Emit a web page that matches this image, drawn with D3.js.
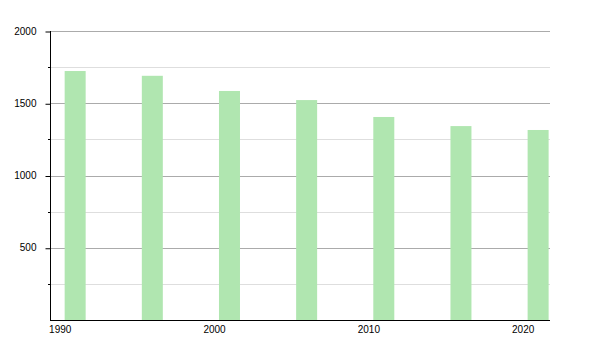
<!DOCTYPE html>
<html lang="en">
<head>
    <meta charset="UTF-8">
    <title>Population</title>
    <style>
        body { margin: 0; background: #fff; }
        svg { font-family: "Liberation Sans", Arial, sans-serif; }
    </style>
</head>
<body>
<div id="chart"></div>

<script src="https://d3js.org/d3.v7.min.js"></script>
<script>
    // Census years and population
    var years = [1991, 1996, 2001, 2006, 2011, 2016, 2021];
    var population = [1723, 1690, 1585, 1522, 1405, 1342, 1315];
    var yTicks = [500, 1000, 1500, 2000];
    var yMinorTicks = [250, 750, 1250, 1750];
    var xTicks = [1990, 2000, 2010, 2020];

    var width = 600, height = 350;
    var plotLeft = 50, plotRight = 550, plotTop = 31, plotBottom = 320;

    var svg = d3.select("#chart").append("svg")
        .attr("width", width)
        .attr("height", height);

    var x = d3.scaleLinear().domain([1989.37, 2021.77]).range([plotLeft, plotRight]);
    var y = d3.scaleLinear().domain([0, 2000]).range([plotBottom, plotTop]);

    // clip so the last bar stops at the axis end
    svg.append("clipPath").attr("id", "plot")
        .append("rect")
        .attr("x", plotLeft).attr("y", plotTop - 2)
        .attr("width", plotRight - plotLeft).attr("height", plotBottom - plotTop + 2);

    // minor gridlines
    svg.selectAll(".minor")
        .data(yMinorTicks)
        .enter().append("line")
        .attr("x1", plotLeft).attr("x2", plotRight)
        .attr("y1", d => Math.round(y(d)) + 0.5).attr("y2", d => Math.round(y(d)) + 0.5)
        .attr("stroke", "#dedede");

    // major gridlines
    svg.selectAll(".major")
        .data(yTicks)
        .enter().append("line")
        .attr("x1", plotLeft).attr("x2", plotRight)
        .attr("y1", d => Math.round(y(d)) + 0.5).attr("y2", d => Math.round(y(d)) + 0.5)
        .attr("stroke", "#ababab");

    // bars
    var barW = 21;
    svg.append("g")
        .attr("clip-path", "url(#plot)")
        .selectAll("rect")
        .data(years)
        .enter().append("rect")
        .attr("x", d => x(d) - barW / 2)
        .attr("width", barW)
        .attr("y", (d, i) => y(population[i]))
        .attr("height", (d, i) => plotBottom - y(population[i]))
        .attr("fill", "#b0e6b0");

    // y axis
    var yAxis = d3.axisLeft(y)
        .tickValues(yTicks)
        .tickSize(5)
        .tickFormat(d3.format("d"));
    var gy = svg.append("g")
        .attr("transform", "translate(" + (plotLeft + 0.5) + ",0)")
        .call(yAxis);
    gy.select(".domain").attr("d", "M0," + plotTop + "V" + plotBottom).attr("stroke", "#000");
    gy.selectAll(".tick line").attr("transform", "translate(0,0.5)");
    gy.selectAll("text").attr("font-size", 10).attr("fill", "#000")
        .attr("font-family", "Liberation Sans, Arial, sans-serif")
        .attr("x", -14);

    svg.append("g")
        .selectAll("line")
        .data(yMinorTicks)
        .enter().append("line")
        .attr("x1", plotLeft - 2).attr("x2", plotLeft)
        .attr("y1", d => Math.round(y(d)) + 0.5).attr("y2", d => Math.round(y(d)) + 0.5)
        .attr("stroke", "#000");

    // x axis
    var xAxis = d3.axisBottom(x)
        .tickValues(xTicks)
        .tickSize(0)
        .tickPadding(5)
        .tickFormat(d3.format("d"));
    var gx = svg.append("g")
        .attr("transform", "translate(0," + (plotBottom + 0.5) + ")")
        .call(xAxis);
    gx.select(".domain").attr("d", "M" + plotLeft + ",0H" + plotRight).attr("stroke", "#000");
    gx.selectAll("text").attr("font-size", 10).attr("fill", "#000")
        .attr("font-family", "Liberation Sans, Arial, sans-serif");
</script>
</body>
</html>
